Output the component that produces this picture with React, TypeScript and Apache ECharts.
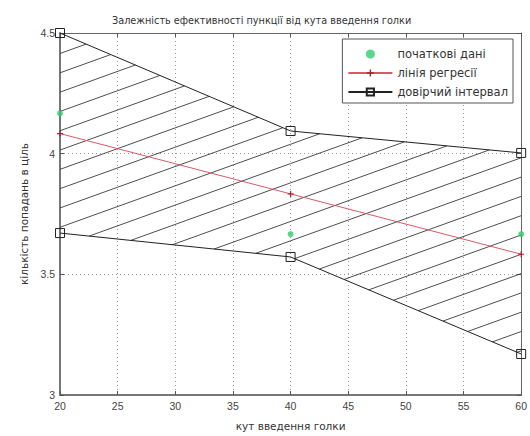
import React, { useEffect, useRef } from 'react';
import * as echarts from 'echarts';

// ---- data ----
const angles = [20, 40, 60];
const observed = [4.1667, 3.6667, 3.6667];
const regression = [4.0833, 3.8333, 3.5833];
const ciUpper = [4.5, 4.094, 4.003];
const ciLower = [3.671, 3.572, 3.17];

const titleText = 'Залежність ефективності пункції від кута введення голки';
const xName = 'кут введення голки';
const yName = 'кількість попадань в ціль';
const legendNames = ['початкові дані', 'лінія регресії', 'довірчий інтервал'];

// hatch pattern parameters (data units)
const HATCH_SLOPE = 0.0172;
const HATCH_STEP = 0.08;
const HATCH_ANCHOR = 3.775;

function hatchSegments(): [number, number][][] {
  const segs: [number, number][][] = [];
  const x0 = angles[0];
  const H = (c: number, x: number) => c + HATCH_SLOPE * (x - x0);
  for (let n = 14; n >= -22; n--) {
    const c = HATCH_ANCHOR + n * HATCH_STEP;
    let cur: [number, number][] | null = null;
    for (let i = 0; i < angles.length - 1; i++) {
      const xa = angles[i], xb = angles[i + 1];
      let lo = xa, hi = xb;
      const su = (ciUpper[i + 1] - ciUpper[i]) / (xb - xa);
      const sl = (ciLower[i + 1] - ciLower[i]) / (xb - xa);
      const cons = (p: number, q: number) => {
        if (Math.abs(q) < 1e-12) {
          if (p > 0) { lo = 1; hi = 0; }
          return;
        }
        const r = -p / q;
        if (q > 0) hi = Math.min(hi, r); else lo = Math.max(lo, r);
      };
      // H - U <= 0
      cons(c - HATCH_SLOPE * x0 - ciUpper[i] + su * xa, HATCH_SLOPE - su);
      // L - H <= 0
      cons(ciLower[i] - sl * xa - c + HATCH_SLOPE * x0, sl - HATCH_SLOPE);
      if (hi - lo > 1e-6) {
        if (cur && Math.abs(cur[cur.length - 1][0] - lo) < 1e-6) {
          cur.push([hi, H(c, hi)]);
        } else {
          cur = [[lo, H(c, lo)], [hi, H(c, hi)]];
          segs.push(cur);
        }
      } else {
        cur = null;
      }
    }
  }
  return segs;
}

const FONT = 'Liberation Sans, Arial, sans-serif';
const WIDE = 'DejaVu Sans, Verdana, sans-serif';

export default function App() {
  const ref = useRef<HTMLDivElement>(null);
  useEffect(() => {
    const chart = echarts.init(ref.current!, null, { renderer: 'svg' });
    const hatchSeries = hatchSegments().map((seg, i) => ({
      name: 'hatch' + i,
      type: 'line',
      data: seg,
      symbol: 'none',
      silent: true,
      z: 1,
      lineStyle: { color: '#3a3a3a', width: 0.9 },
    }));
    const option: any = {
      animation: false,
      backgroundColor: '#fff',
      textStyle: { fontFamily: FONT },
      title: {
        text: titleText,
        left: 107,
        top: 10,
        textStyle: { fontSize: 9.7, fontWeight: 'normal', color: '#333', fontFamily: WIDE },
      },
      grid: { left: 60, right: 8, top: 33, bottom: 41 },
      legend: {
        data: legendNames,
        orient: 'vertical',
        right: 17,
        top: 39,
        padding: [9, 5, 5, 5],
        itemGap: 7,
        itemWidth: 44,
        itemHeight: 9,
        backgroundColor: '#fff',
        borderColor: '#555',
        borderWidth: 1,
        borderRadius: 0,
        textStyle: { fontSize: 11.5, color: '#333', fontFamily: WIDE },
      },
      xAxis: [
        {
          type: 'value', min: 20, max: 60, interval: 5, position: 'bottom',
          name: xName, nameLocation: 'middle', nameGap: 25,
          nameTextStyle: { fontSize: 10.5, color: '#333', fontFamily: WIDE },
          axisLine: { show: true, onZero: false, lineStyle: { color: '#777', width: 2 } },
          axisTick: { show: true, inside: true, length: 4, lineStyle: { color: '#555' } },
          axisLabel: { fontSize: 10.5, color: '#444', margin: 5, fontFamily: FONT },
          splitLine: { show: true, lineStyle: { type: [1, 3], color: '#999', width: 1 } },
        },
        {
          type: 'value', min: 20, max: 60, interval: 5, position: 'top',
          axisLine: { show: true, onZero: false, lineStyle: { color: '#666', width: 1 } },
          axisTick: { show: true, inside: true, length: 4, lineStyle: { color: '#555' } },
          axisLabel: { show: false },
          splitLine: { show: false },
        },
      ],
      yAxis: [
        {
          type: 'value', min: 3, max: 4.5, interval: 0.5, position: 'left',
          name: yName, nameLocation: 'middle', nameGap: 29,
          nameTextStyle: { fontSize: 10.5, color: '#333', fontFamily: WIDE },
          axisLine: { show: true, onZero: false, lineStyle: { color: '#777', width: 2 } },
          axisTick: { show: true, inside: true, length: 4, lineStyle: { color: '#555' } },
          axisLabel: { fontSize: 10.5, color: '#444', margin: 5, fontFamily: FONT },
          splitLine: { show: true, lineStyle: { type: [1, 3], color: '#999', width: 1 } },
        },
        {
          type: 'value', min: 3, max: 4.5, interval: 0.5, position: 'right',
          axisLine: { show: true, onZero: false, lineStyle: { color: '#666', width: 1 } },
          axisTick: { show: true, inside: true, length: 4, lineStyle: { color: '#555' } },
          axisLabel: { show: false },
          splitLine: { show: false },
        },
      ],
      series: [
        ...hatchSeries,
        {
          name: legendNames[2],
          type: 'line',
          data: angles.map((x, i) => [x, ciUpper[i]]),
          symbol: 'rect',
          symbolSize: 9,
          z: 3,
          lineStyle: { color: '#222', width: 1 },
          itemStyle: { color: 'rgba(255,255,255,0)', borderColor: '#222', borderWidth: 1 },
        },
        {
          name: legendNames[2],
          type: 'line',
          data: angles.map((x, i) => [x, ciLower[i]]),
          symbol: 'rect',
          symbolSize: 9,
          z: 3,
          lineStyle: { color: '#222', width: 1 },
          itemStyle: { color: 'rgba(255,255,255,0)', borderColor: '#222', borderWidth: 1 },
        },
        {
          name: legendNames[1],
          type: 'line',
          data: angles.map((x, i) => [x, regression[i]]),
          symbol: 'path://M4,0H6V4H10V6H6V10H4V6H0V4H4Z',
          symbolSize: 6,
          z: 4,
          lineStyle: { color: '#d85a68', width: 1 },
          itemStyle: { color: '#b02030' },
        },
        {
          name: legendNames[0],
          type: 'scatter',
          data: angles.map((x, i) => [x, observed[i]]),
          symbol: 'circle',
          symbolSize: 6,
          z: 5,
          itemStyle: { color: '#2fcf6a' },
        },
      ],
    };
    chart.setOption(option);
    return () => chart.dispose();
  }, []);
  return (
    <div
      ref={ref}
      style={{ position: 'fixed', left: 0, top: 0, width: 530, height: 436, background: '#fff' }}
    />
  );
}
